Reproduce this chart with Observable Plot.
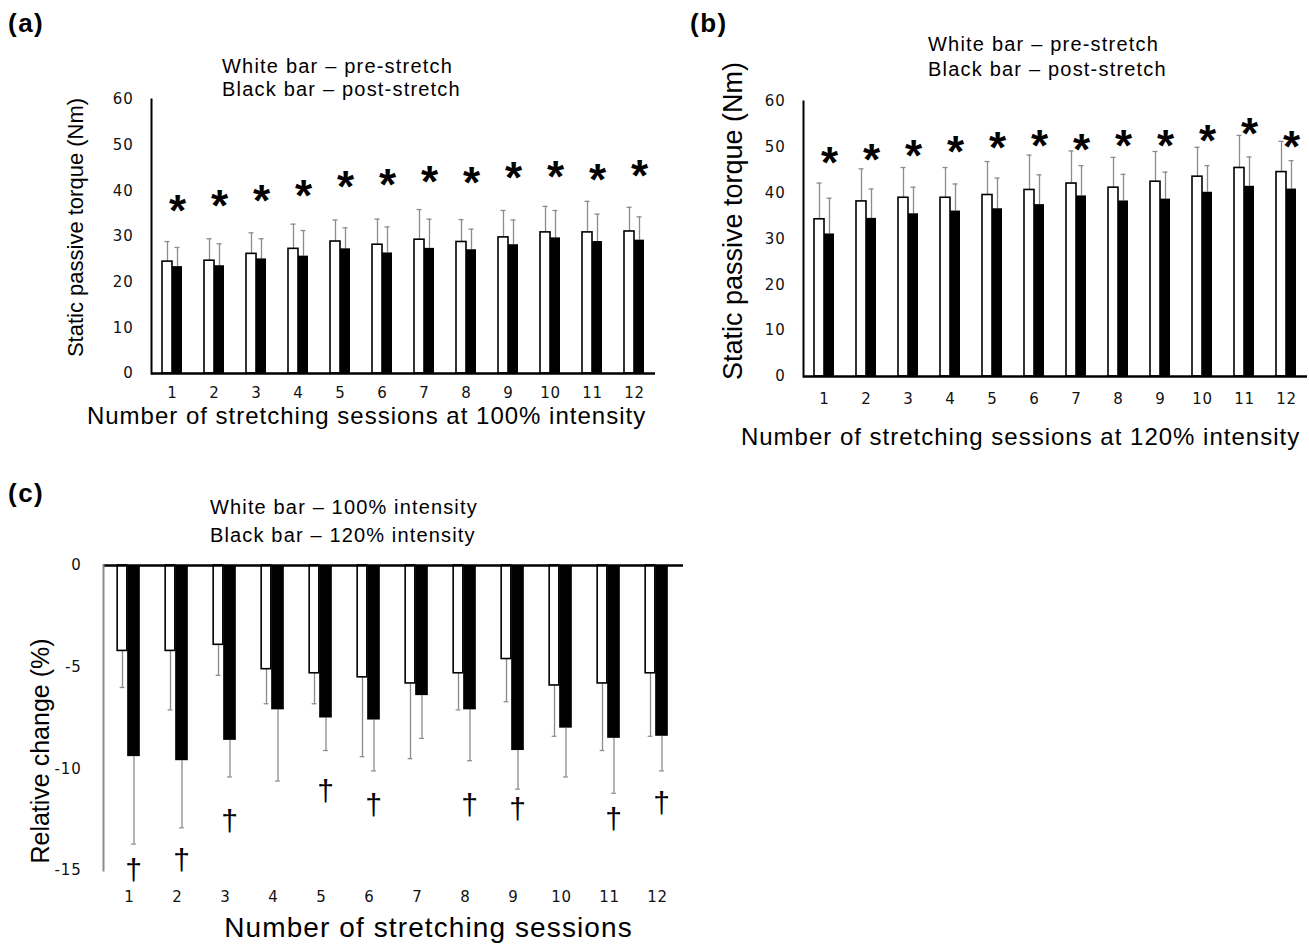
<!DOCTYPE html>
<html>
<head>
<meta charset="utf-8">
<script src="https://cdn.jsdelivr.net/npm/d3@7"></script>
<script src="https://cdn.jsdelivr.net/npm/@observablehq/plot@0.6"></script>
<style>
  html, body { margin: 0; padding: 0; background: #fff; }
  #wrap { position: relative; width: 1309px; height: 948px; overflow: hidden; font-family: "Liberation Sans", Arial, sans-serif; color: #000; background: #fff; }
  .pane { position: absolute; z-index: 1; }
  .letter { position: absolute; z-index: 2; font-weight: bold; font-size: 26px; letter-spacing: 1.5px; line-height: 1; }
  .legend { position: absolute; z-index: 2; font-size: 20px; letter-spacing: 1.2px; white-space: nowrap; }
  #wrap g[aria-label$="tick label"] { font-size: 15px; letter-spacing: 0.8px; }
</style>
</head>
<body>
<div id="wrap">
  <div class="letter" style="left:8px;top:10px">(a)</div>
  <div class="letter" style="left:690px;top:10px">(b)</div>
  <div class="letter" style="left:8px;top:480px">(c)</div>
  <div class="legend" style="left:222px;top:55px;line-height:23px">White bar – pre-stretch<br>Black bar – post-stretch</div>
  <div class="legend" style="left:928px;top:32px;line-height:25px">White bar – pre-stretch<br>Black bar – post-stretch</div>
  <div class="legend" style="left:210px;top:493px;line-height:28px;letter-spacing:1.15px">White bar – 100% intensity<br>Black bar – 120% intensity</div>
  <div class="pane" id="pa" style="left:0px;top:0px"></div>
  <div class="pane" id="pb" style="left:680px;top:0px"></div>
  <div class="pane" id="pc" style="left:0px;top:470px"></div>
</div>
<script>
// ---- Data ----
const sessions = ["1","2","3","4","5","6","7","8","9","10","11","12"];

// (a) 100% intensity: static passive torque (Nm)
const aPre     = [24.5, 24.7, 26.2, 27.3, 28.9, 28.2, 29.3, 28.8, 29.8, 30.9, 30.9, 31.1];
const aPreSD   = [4.4, 4.8, 4.6, 5.4, 4.7, 5.6, 6.6, 4.9, 5.9, 5.7, 6.8, 5.3];
const aPost    = [23.4, 23.6, 25.1, 25.7, 27.3, 26.4, 27.4, 27.1, 28.2, 29.7, 28.9, 29.2];
const aPostSD  = [4.2, 4.8, 4.4, 5.6, 4.6, 5.7, 6.4, 4.5, 5.4, 6.0, 6.0, 5.1];
const aStar    = [36.6, 37.8, 38.9, 40.0, 42.0, 42.3, 43.1, 42.8, 43.9, 44.1, 43.4, 44.4];

// (b) 120% intensity
const bPre     = [34.3, 38.2, 39.0, 39.0, 39.6, 40.7, 42.1, 41.2, 42.5, 43.6, 45.5, 44.6];
const bPreSD   = [7.9, 7.1, 6.6, 6.6, 7.3, 7.6, 7.1, 6.6, 6.6, 6.4, 7.1, 6.7];
const bPost    = [31.1, 34.5, 35.5, 36.1, 36.6, 37.5, 39.4, 38.3, 38.7, 40.2, 41.5, 40.9];
const bPostSD  = [7.8, 6.4, 5.8, 5.9, 6.7, 6.5, 6.6, 5.8, 5.9, 5.8, 6.4, 6.2];
const bStar    = [47.6, 48.4, 49.2, 50.2, 50.9, 51.3, 50.5, 51.3, 51.3, 52.4, 54.0, 51.1];

// (c) relative change (%)
const c100     = [-4.2, -4.2, -3.9, -5.1, -5.3, -5.5, -5.8, -5.3, -4.6, -5.9, -5.8, -5.3];
const c100SD   = [1.8, 2.9, 1.5, 1.7, 1.5, 3.9, 3.7, 1.8, 2.1, 2.5, 3.3, 3.1];
const c120     = [-9.4, -9.6, -8.6, -7.1, -7.5, -7.6, -6.4, -7.1, -9.1, -8.0, -8.5, -8.4];
const c120SD   = [4.3, 3.3, 1.8, 3.5, 1.6, 2.5, 2.1, 2.5, 1.9, 2.4, 2.7, 1.7];
const daggerSessions = ["1","2","3","5","6","8","9","11","12"];
const daggerY  = [-15.0, -14.5, -12.6, -11.1, -11.8, -11.8, -12.0, -12.5, -11.7];

const yTicksAB = [0, 10, 20, 30, 40, 50, 60];
const yTicksC  = [0, -5, -10, -15];

const ERR = "#8c8c8c";
const TICKFONT = "DejaVu Sans";
const TITLEFONT = "Liberation Sans";

function rows(pre, preSD, post, postSD, extra) {
  return sessions.map((s, i) => ({s, pre: pre[i], preSD: preSD[i], post: post[i], postSD: postSD[i], extra: extra ? extra[i] : null}));
}

const titleOpts = {fontFamily: TITLEFONT, fill: "black", lineAnchor: "middle", textAnchor: "middle"};

function torquePanel(opt) {
  const data = rows(opt.pre, opt.preSD, opt.post, opt.postSD, opt.star);
  const step = (opt.width - opt.ml - opt.mr) / 12;
  const half = step / 2;
  const svg = Plot.plot({
    width: opt.width, height: opt.height,
    marginTop: opt.mt, marginBottom: opt.mb, marginLeft: opt.ml, marginRight: opt.mr,
    style: {fontFamily: TICKFONT, fontSize: "15px", color: "#111", background: "transparent", overflow: "visible"},
    x: {type: "band", domain: sessions, padding: 0},
    y: {domain: [0, 60]},
    marks: [
      Plot.ruleX(data, {x: "s", y1: "pre", y2: d => d.pre + d.preSD, dx: -5, stroke: ERR, strokeWidth: 1.3}),
      Plot.tickY(data, {x: "s", y: d => d.pre + d.preSD, dx: -5, insetLeft: half - 2.5, insetRight: half - 2.5, stroke: ERR, strokeWidth: 1.3}),
      Plot.ruleX(data, {x: "s", y1: "post", y2: d => d.post + d.postSD, dx: 5, stroke: ERR, strokeWidth: 1.3}),
      Plot.tickY(data, {x: "s", y: d => d.post + d.postSD, dx: 5, insetLeft: half - 2.5, insetRight: half - 2.5, stroke: ERR, strokeWidth: 1.3}),
      Plot.barY(data, {x: "s", y: "pre", insetLeft: half - 10, insetRight: half, fill: "white", stroke: "black", strokeWidth: 1.6}),
      Plot.barY(data, {x: "s", y: "post", insetLeft: half, insetRight: half - 10, fill: "black"}),
      Plot.text(data, {x: "s", y: "extra", text: () => "*", dx: 5, dy: 6, fontSize: 44, fontWeight: "bold", fontFamily: TITLEFONT, fill: "black"}),
      Plot.ruleY([0], {stroke: "black", strokeWidth: 2.5}),
      Plot.frame({anchor: "left", stroke: "black", strokeWidth: 2}),
      Plot.axisX({tickSize: 0, tickPadding: opt.tp, label: null}),
      Plot.axisY({ticks: yTicksAB, tickSize: 0, tickPadding: 18, label: null}),
      Plot.text([opt.xTitle], {...titleOpts, fontSize: 24, frameAnchor: "bottom", dx: opt.xdx, dy: opt.xdy, className: "xtitle"}),
      Plot.text([opt.yTitle], {...titleOpts, fontSize: opt.yfs, frameAnchor: "left", rotate: -90, dx: opt.ydx, dy: opt.ydy})
    ]
  });
  svg.querySelectorAll(".xtitle text").forEach(t => t.setAttribute("letter-spacing", "1"));
  return svg;
}

document.getElementById("pa").appendChild(torquePanel({
  pre: aPre, preSD: aPreSD, post: aPost, postSD: aPostSD, star: aStar,
  width: 680, height: 440, mt: 99, mb: 67, ml: 151, mr: 25, tp: 14,
  xTitle: "Number of stretching sessions at 100% intensity", xdx: -37, xdy: 43,
  yTitle: "Static passive torque (Nm)", ydx: -76, ydy: -9, yfs: 22
}));

document.getElementById("pb").appendChild(torquePanel({
  pre: bPre, preSD: bPreSD, post: bPost, postSD: bPostSD, star: bStar,
  width: 629, height: 460, mt: 101, mb: 84, ml: 123, mr: 2, tp: 17,
  xTitle: "Number of stretching sessions at 120% intensity", xdx: -35, xdy: 61,
  yTitle: "Static passive torque (Nm)", ydx: -70, ydy: -18, yfs: 27
}));

// (c)
(function () {
  const data = rows(c100, c100SD, c120, c120SD, null);
  const dag = daggerSessions.map((s, i) => ({s, y: daggerY[i]}));
  const width = 700, ml = 103, mr = 17;
  const step = (width - ml - mr) / 12, half = step / 2;
  const svg = Plot.plot({
    width, height: 478, marginTop: 95, marginBottom: 78, marginLeft: ml, marginRight: mr,
    style: {fontFamily: TICKFONT, fontSize: "15px", color: "#111", background: "transparent", overflow: "visible"},
    x: {type: "band", domain: sessions, padding: 0},
    y: {domain: [-15, 0]},
    marks: [
      Plot.ruleX(data, {x: "s", y1: "pre", y2: d => d.pre - d.preSD, dx: -7, stroke: ERR, strokeWidth: 1.3}),
      Plot.tickY(data, {x: "s", y: d => d.pre - d.preSD, dx: -7, insetLeft: half - 2.5, insetRight: half - 2.5, stroke: ERR, strokeWidth: 1.3}),
      Plot.ruleX(data, {x: "s", y1: "post", y2: d => d.post - d.postSD, dx: 4.5, stroke: ERR, strokeWidth: 1.3}),
      Plot.tickY(data, {x: "s", y: d => d.post - d.postSD, dx: 4.5, insetLeft: half - 2.5, insetRight: half - 2.5, stroke: ERR, strokeWidth: 1.3}),
      Plot.barY(data, {x: "s", y: "pre", insetLeft: half - 12, insetRight: half + 2, fill: "white", stroke: "black", strokeWidth: 1.6}),
      Plot.barY(data, {x: "s", y: "post", insetLeft: half - 2, insetRight: half - 11, fill: "black"}),
      Plot.text(dag, {x: "s", y: "y", text: () => "†", dx: 4, fontSize: 30, fontFamily: TITLEFONT, fill: "black"}),
      Plot.ruleY([0], {stroke: "black", strokeWidth: 2.5}),
      Plot.frame({anchor: "left", stroke: "#8c8c8c", strokeWidth: 2}),
      Plot.axisX({tickSize: 0, tickPadding: 21, label: null}),
      Plot.axisY({ticks: yTicksC, tickFormat: d => String(d), tickSize: 0, tickPadding: 22, label: null}),
      Plot.text(["Number of stretching sessions"], {...titleOpts, fontSize: 28, frameAnchor: "bottom", dx: 35, dy: 58, className: "xtitle"}),
      Plot.text(["Relative change (%)"], {...titleOpts, fontSize: 25, frameAnchor: "left", rotate: -90, dx: -63, dy: 33})
    ]
  });
  svg.querySelectorAll(".xtitle text").forEach(t => t.setAttribute("letter-spacing", "1.1"));
  document.getElementById("pc").appendChild(svg);
})();
</script>
</body>
</html>
